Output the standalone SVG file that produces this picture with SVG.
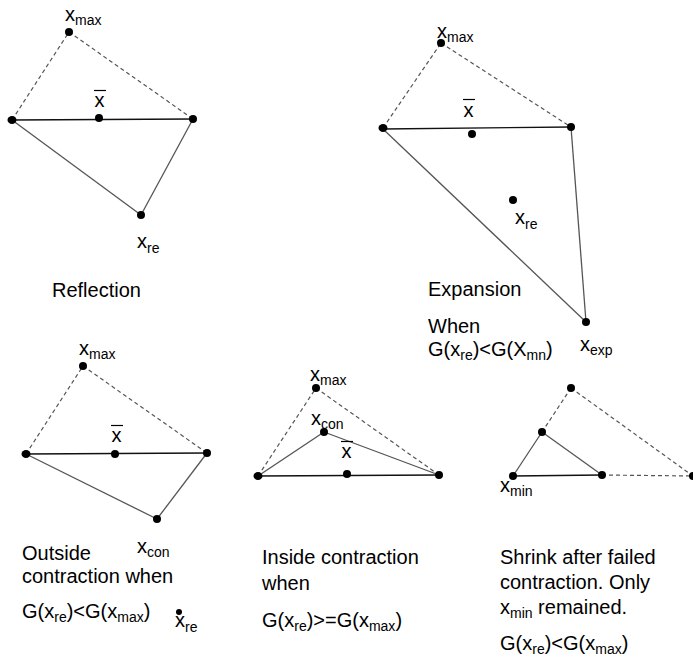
<svg xmlns="http://www.w3.org/2000/svg" width="693" height="661" viewBox="0 0 693 661">
<style>
.t{font-family:"Liberation Sans",Arial,sans-serif;font-size:20px;fill:#000}
.s{font-size:14px}
.dot{fill:#000}
.edge{stroke:#111;stroke-width:1.3;fill:none}
.side{stroke:#555;stroke-width:1.3;fill:none}
.dash{stroke:#555;stroke-width:1.2;stroke-dasharray:4 3;fill:none}
.bar{stroke:#000;stroke-width:1.2}
</style>
<rect width="693" height="661" fill="#fff"/>
<g id="connectors">
  <!-- Reflection -->
  <line class="dash" x1="12" y1="120" x2="69" y2="32"/>
  <line class="dash" x1="69" y1="32" x2="193" y2="119"/>
  <line class="edge" x1="12" y1="120" x2="193" y2="119"/>
  <line class="side" x1="12" y1="120" x2="141" y2="215"/>
  <line class="side" x1="141" y1="215" x2="193" y2="119"/>
  <!-- Expansion -->
  <line class="dash" x1="383" y1="128" x2="441" y2="43"/>
  <line class="dash" x1="441" y1="43" x2="571" y2="127"/>
  <line class="edge" x1="383" y1="129" x2="571" y2="127"/>
  <line class="side" x1="383" y1="129" x2="586" y2="322"/>
  <line class="side" x1="571" y1="127" x2="586" y2="322"/>
  <!-- Outside contraction -->
  <line class="dash" x1="26" y1="454" x2="83" y2="366"/>
  <line class="dash" x1="83" y1="366" x2="207" y2="453"/>
  <line class="edge" x1="26" y1="454" x2="207" y2="453"/>
  <line class="side" x1="26" y1="454" x2="157" y2="519"/>
  <line class="side" x1="157" y1="519" x2="207" y2="453"/>
  <!-- Inside contraction -->
  <line class="dash" x1="258" y1="476" x2="316" y2="388"/>
  <line class="dash" x1="316" y1="388" x2="439" y2="475"/>
  <line class="edge" x1="258" y1="476" x2="439" y2="475"/>
  <line class="side" x1="258" y1="476" x2="324" y2="432"/>
  <line class="side" x1="324" y1="432" x2="439" y2="475"/>
  <!-- Shrink -->
  <line class="dash" x1="571" y1="388" x2="542" y2="432"/>
  <line class="dash" x1="571" y1="388" x2="693" y2="476"/>
  <line class="dash" x1="602" y1="475" x2="693" y2="476"/>
  <line class="edge" x1="513" y1="476" x2="602" y2="475"/>
  <line class="side" x1="513" y1="476" x2="542" y2="432"/>
  <line class="side" x1="542" y1="432" x2="602" y2="475"/>
</g>

<!-- Panel 1: Reflection -->
<g id="p1-xmax"><circle class="dot" cx="69" cy="32" r="4"/><text class="t" x="65" y="21">x<tspan class="s" dy="4">max</tspan></text></g>
<g id="p1-left"><ellipse class="dot" cx="12" cy="120" rx="4.5" ry="4"/></g>
<g id="p1-right"><circle class="dot" cx="193" cy="119" r="4"/></g>
<g id="p1-xbar"><circle class="dot" cx="99" cy="118" r="4"/><text class="t" x="94.5" y="107">x</text><line class="bar" x1="94" y1="90.5" x2="106" y2="90.5"/></g>
<g id="p1-xre"><circle class="dot" cx="141" cy="215" r="4"/><text class="t" x="137" y="248">x<tspan class="s" dy="5">re</tspan></text></g>
<g id="p1-caption"><text class="t" x="52" y="297">Reflection</text></g>

<!-- Panel 2: Expansion -->
<g id="p2-xmax"><circle class="dot" cx="441" cy="43" r="4"/><text class="t" x="437" y="38">x<tspan class="s" dy="4">max</tspan></text></g>
<g id="p2-left"><ellipse class="dot" cx="383" cy="128" rx="4.5" ry="4"/></g>
<g id="p2-right"><circle class="dot" cx="571" cy="127" r="4"/></g>
<g id="p2-xbar"><circle class="dot" cx="472" cy="134" r="4"/><text class="t" x="463.5" y="117">x</text><line class="bar" x1="463" y1="99.5" x2="475" y2="99.5"/></g>
<g id="p2-xre"><circle class="dot" cx="513" cy="200" r="4"/><text class="t" x="515" y="224">x<tspan class="s" dy="5">re</tspan></text></g>
<g id="p2-xexp"><circle class="dot" cx="586" cy="322" r="4"/><text class="t" x="580" y="351">x<tspan class="s" dy="4">exp</tspan></text></g>
<g id="p2-caption"><text class="t" x="428" y="296">Expansion</text><text class="t" x="428" y="333">When</text><text class="t" x="428" y="356">G(x<tspan class="s" dy="4">re</tspan><tspan dy="-4">)&lt;G(X</tspan><tspan class="s" dy="4">mn</tspan><tspan dy="-4">)</tspan></text></g>

<!-- Panel 3: Outside contraction -->
<g id="p3-xmax"><circle class="dot" cx="83" cy="366" r="4"/><text class="t" x="79" y="355">x<tspan class="s" dy="4">max</tspan></text></g>
<g id="p3-left"><ellipse class="dot" cx="26" cy="454" rx="4.5" ry="4"/></g>
<g id="p3-right"><circle class="dot" cx="207" cy="453" r="4"/></g>
<g id="p3-xbar"><circle class="dot" cx="115" cy="454" r="4"/><text class="t" x="111.5" y="442">x</text><line class="bar" x1="111" y1="425.5" x2="123" y2="425.5"/></g>
<g id="p3-xcon"><circle class="dot" cx="157" cy="519" r="4"/><text class="t" x="137" y="553">x<tspan class="s" dy="4">con</tspan></text></g>
<g id="p3-xre"><circle class="dot" cx="179" cy="612" r="3"/><text class="t" x="175" y="627">x<tspan class="s" dy="5">re</tspan></text></g>
<g id="p3-caption"><text class="t" x="22" y="560">Outside</text><text class="t" x="22" y="583">contraction when</text><text class="t" x="22" y="618">G(x<tspan class="s" dy="4">re</tspan><tspan dy="-4">)&lt;G(x</tspan><tspan class="s" dy="4">max</tspan><tspan dy="-4">)</tspan></text></g>

<!-- Panel 4: Inside contraction -->
<g id="p4-xmax"><circle class="dot" cx="316" cy="388" r="4"/><text class="t" x="310" y="381">x<tspan class="s" dy="4">max</tspan></text></g>
<g id="p4-left"><ellipse class="dot" cx="258" cy="476" rx="4.5" ry="4"/></g>
<g id="p4-right"><circle class="dot" cx="439" cy="475" r="4"/></g>
<g id="p4-xbar"><circle class="dot" cx="347" cy="474" r="4"/><text class="t" x="341.5" y="458">x</text><line class="bar" x1="341" y1="441.5" x2="353" y2="441.5"/></g>
<g id="p4-xcon"><circle class="dot" cx="324" cy="432" r="4"/><text class="t" x="311" y="425">x<tspan class="s" dy="4">con</tspan></text></g>
<g id="p4-caption"><text class="t" x="262" y="564">Inside contraction</text><text class="t" x="262" y="590">when</text><text class="t" x="262" y="627">G(x<tspan class="s" dy="4">re</tspan><tspan dy="-4">)&gt;=G(x</tspan><tspan class="s" dy="4">max</tspan><tspan dy="-4">)</tspan></text></g>

<!-- Panel 5: Shrink -->
<g id="p5-top"><circle class="dot" cx="571" cy="388" r="4"/></g>
<g id="p5-mid"><circle class="dot" cx="542" cy="432" r="4"/></g>
<g id="p5-xmin"><circle class="dot" cx="513" cy="476" r="4"/><text class="t" x="500" y="492">x<tspan class="s" dy="4">min</tspan></text></g>
<g id="p5-center"><circle class="dot" cx="602" cy="475" r="4"/></g>
<g id="p5-far"><circle class="dot" cx="693" cy="476" r="4"/></g>
<g id="p5-caption"><text class="t" x="500" y="564">Shrink after failed</text><text class="t" x="500" y="589">contraction. Only</text><text class="t" x="500" y="614">x<tspan class="s" dy="4">min</tspan><tspan dy="-4"> remained.</tspan></text><text class="t" x="500" y="650">G(x<tspan class="s" dy="4">re</tspan><tspan dy="-4">)&lt;G(x</tspan><tspan class="s" dy="4">max</tspan><tspan dy="-4">)</tspan></text></g>
</svg>
